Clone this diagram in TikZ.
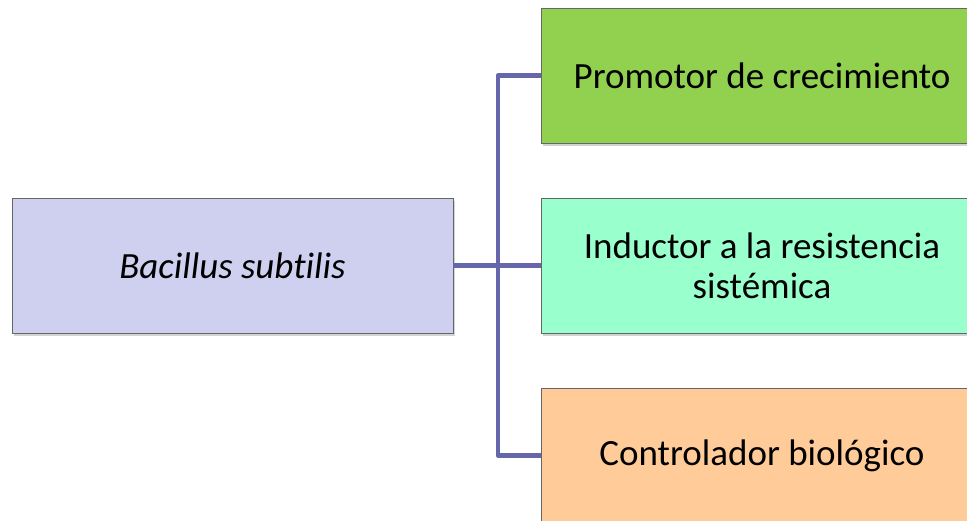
\documentclass[tikz,border=0pt]{standalone}
\usepackage{fontspec}
\setmainfont[Ligatures=NoCommon]{Carlito}
\usetikzlibrary{shadows}
\definecolor{bacfill}{RGB}{207,208,240}
\definecolor{promfill}{RGB}{146,208,80}
\definecolor{indfill}{RGB}{153,255,204}
\definecolor{ctrlfill}{RGB}{255,204,153}
\definecolor{linkcol}{RGB}{102,102,170}
\begin{document}
\begin{tikzpicture}[x=1pt,y=-1pt]
\useasboundingbox (0,0) rectangle (967,521);
\clip (0,0) rectangle (967,521);
\begin{scope}[every node/.style={draw=gray!80!black,line width=0.8pt,minimum height=135pt,
    inner sep=0pt,align=center,font=\fontsize{37}{40}\selectfont,
    drop shadow={shadow xshift=2pt,shadow yshift=-3pt,opacity=0.35}}]
    \node (bac)[fill=bacfill,minimum width=441pt] at (232.5,265.5) {\itshape Bacillus subtilis};
    \node (prom)[fill=promfill,minimum width=442pt] at (762,75.5) {Promotor de crecimiento};
    \node (ind)[fill=indfill,minimum width=442pt] at (762,265.5) {Inductor a la resistencia\\sistémica};
    \node (ctrl)[fill=ctrlfill,minimum width=442pt] at (762,455.5) {Controlador biológico};
\end{scope}
\coordinate (hub) at (498,265.5);

\begin{scope}[every path/.style={draw=linkcol,line width=4.5pt,line join=round}]
    \path (bac.east) -- (ind.west);
    \path (prom.west) -| (hub) |- (ctrl.west);
\end{scope}
\end{tikzpicture}
\end{document}
